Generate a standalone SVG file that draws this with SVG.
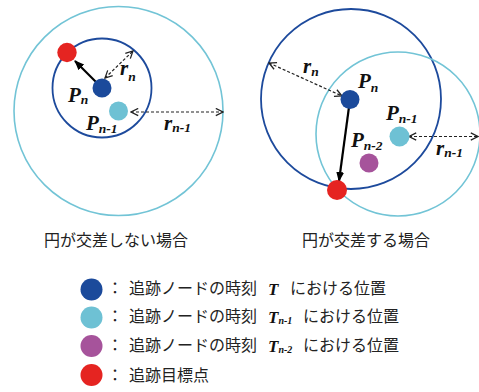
<svg xmlns="http://www.w3.org/2000/svg" width="479" height="392" viewBox="0 0 479 392">
<style>
.bc{fill:none;stroke:#1d4a9c;stroke-width:1.8}
.cc{fill:none;stroke:#72c4d6;stroke-width:1.6}
.dn{fill:#1b4a9b}
.dc{fill:#6ec1d4}
.dm{fill:#a6539b}
.dr{fill:#e52421}
.da{fill:none;stroke:#222;stroke-width:1.2;stroke-dasharray:3 2;marker-start:url(#oa);marker-end:url(#oa)}
.sa{fill:none;stroke:#000;stroke-width:2.2;marker-end:url(#fa)}
.m{font-family:"Liberation Serif","DejaVu Serif",serif;font-style:italic;font-weight:bold;font-size:21px;fill:#111}
.s{font-size:13.5px}
.j{font-family:"Noto Sans CJK JP","Noto Sans",sans-serif;font-size:16px;fill:#222}
.t{font-family:"Liberation Serif",serif;font-style:italic;font-weight:bold;font-size:17px;fill:#111}
.ts{font-size:10px}
</style>
<defs>
<marker id="oa" viewBox="0 0 10 10" refX="9" refY="5" markerWidth="9" markerHeight="9" markerUnits="userSpaceOnUse" orient="auto-start-reverse">
<path d="M1,1 L9,5 L1,9" fill="none" stroke="#222" stroke-width="1.4"/>
</marker>
<marker id="fa" viewBox="0 0 10 10" refX="9" refY="5" markerWidth="10" markerHeight="10" markerUnits="userSpaceOnUse" orient="auto">
<path d="M0,1 L10,5 L0,9 Z" fill="#000"/>
</marker>
</defs>

<g id="left-diagram">
<circle class="cc" cx="118.5" cy="111" r="104.5"/>
<circle class="bc" cx="102" cy="88" r="49.5"/>
</g>
<g id="right-diagram">
<circle class="bc" cx="351" cy="99" r="90"/>
<circle class="cc" cx="398" cy="134" r="82"/>
</g>

<g id="connectors">
<line class="sa" x1="98" y1="84" x2="75" y2="61"/>
<line class="da" x1="105" y1="78" x2="133" y2="51"/>
<line class="da" x1="131" y1="112" x2="223" y2="112"/>
<line class="sa" x1="349" y1="107" x2="339" y2="181"/>
<line class="da" x1="269" y1="63" x2="342" y2="96"/>
<line class="da" x1="409" y1="136.5" x2="478" y2="136.5"/>
</g>

<g id="left-nodes">
<g id="L-red"><circle class="dr" cx="67" cy="52.5" r="9.7"/></g>
<g id="L-Pn"><circle class="dn" cx="102" cy="88" r="9.5"/><text class="m" x="68" y="102">P<tspan class="s" dy="2">n</tspan></text></g>
<g id="L-Pn1"><circle class="dc" cx="118.5" cy="111" r="9.5"/><text class="m" x="86" y="130">P<tspan class="s" dy="3">n-1</tspan></text></g>
<text class="m" x="120" y="75">r<tspan class="s" dy="6">n</tspan></text>
<text class="m" x="164" y="130">r<tspan class="s" dy="2">n-1</tspan></text>
</g>

<g id="right-nodes">
<g id="R-red"><circle class="dr" cx="337" cy="190" r="10"/></g>
<g id="R-Pn"><circle class="dn" cx="350" cy="99.5" r="9.5"/><text class="m" x="358" y="88">P<tspan class="s" dy="4">n</tspan></text></g>
<g id="R-Pn1"><circle class="dc" cx="399.5" cy="136.5" r="10"/><text class="m" x="386" y="120">P<tspan class="s" dy="3">n-1</tspan></text></g>
<g id="R-Pn2"><circle class="dm" cx="369" cy="163" r="9.5"/><text class="m" x="351" y="147">P<tspan class="s" dy="3">n-2</tspan></text></g>
<text class="m" x="303" y="73">r<tspan class="s" dy="3">n</tspan></text>
<text class="m" x="436" y="155">r<tspan class="s" dy="2">n-1</tspan></text>
</g>

<text class="j" x="116" y="246" text-anchor="middle">円が交差しない場合</text>
<text class="j" x="366" y="246" text-anchor="middle">円が交差する場合</text>

<g id="legend">
<g id="lg1"><circle class="dn" cx="91.5" cy="289.5" r="11"/><text class="j" x="107" y="293.5">：</text><text class="j" x="129" y="293.5">追跡ノードの時刻</text><text class="t" x="268" y="295">T</text><text class="j" x="290" y="293.5">における位置</text></g>
<g id="lg2"><circle class="dc" cx="91.5" cy="317.5" r="11"/><text class="j" x="107" y="322">：</text><text class="j" x="129" y="322">追跡ノードの時刻</text><text class="t" x="268" y="323">T<tspan class="ts" dy="1">n-1</tspan></text><text class="j" x="303" y="322">における位置</text></g>
<g id="lg3"><circle class="dm" cx="91.5" cy="346" r="11"/><text class="j" x="107" y="351">：</text><text class="j" x="129" y="351">追跡ノードの時刻</text><text class="t" x="268" y="352">T<tspan class="ts" dy="1">n-2</tspan></text><text class="j" x="303" y="351">における位置</text></g>
<g id="lg4"><circle class="dr" cx="91.5" cy="375" r="11"/><text class="j" x="107" y="380.5">：</text><text class="j" x="129" y="380.5">追跡目標点</text></g>
</g>
</svg>
